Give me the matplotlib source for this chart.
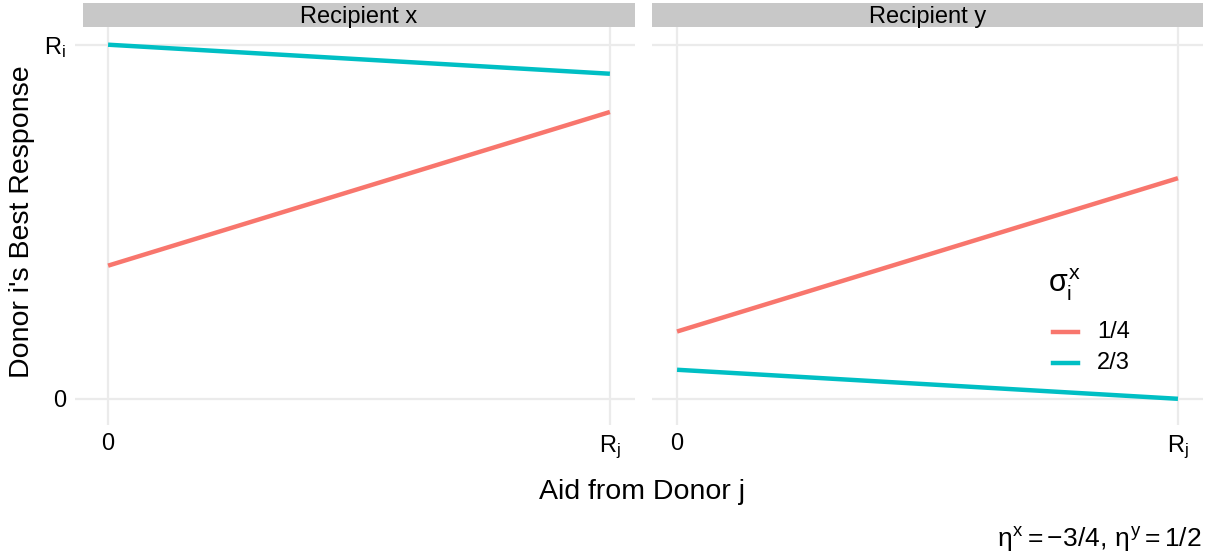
import matplotlib
matplotlib.use("Agg")
import matplotlib.pyplot as plt
from matplotlib.patches import Rectangle
from matplotlib.lines import Line2D

plt.rcParams['font.family'] = ['Liberation Sans', 'DejaVu Sans']
plt.rcParams['mathtext.fontset'] = 'custom'
plt.rcParams['mathtext.rm'] = 'Liberation Sans'
plt.rcParams['mathtext.it'] = 'Liberation Sans'
plt.rcParams['mathtext.bf'] = 'Liberation Sans:bold'

# ---- data ----
facets = ["Recipient x", "Recipient y"]
aid_j = [0.0, 1.0]
sigma_labels = ["1/4", "2/3"]
colors = ["#F8766D", "#00BFC4"]
# best response values at aid_j = 0 and aid_j = Rj, per facet, per sigma
recip_x_quarter = [0.376, 0.810]
recip_x_twothirds = [1.0, 0.918]
recip_y_quarter = [0.190, 0.623]
recip_y_twothirds = [0.082, 0.0]
series = {
    "Recipient x": [recip_x_quarter, recip_x_twothirds],
    "Recipient y": [recip_y_quarter, recip_y_twothirds],
}
x_ticks = [0, 1]
x_ticklabels = ["0", r"$\mathrm{R_j}$"]
y_ticks = [0, 1]
y_ticklabels = ["0", r"$\mathrm{R_i}$"]

W, H = 1212, 559
fig = plt.figure(figsize=(W / 100, H / 100), dpi=100)

grid_col = "#EBEBEB"
lw = 3.2
panels = [(83, 635), (652, 1203)]
top_px, bot_px = 27, 416.5
for i, (name, (l, r)) in enumerate(zip(facets, panels)):
    ax = fig.add_axes([l / W, 1 - bot_px / H, (r - l) / W, (bot_px - top_px) / H])
    ax.set_xlim(-0.05, 1.05)
    ax.set_ylim(-0.05, 1.05)
    for s in ax.spines.values():
        s.set_visible(False)
    ax.set_xticks(x_ticks)
    ax.set_yticks(y_ticks)
    ax.grid(True, color=grid_col, linewidth=1.6)
    ax.set_axisbelow(True)
    ax.set_xticklabels(x_ticklabels, fontsize=17)
    ax.tick_params(axis='x', length=6, width=1.6, color=grid_col, pad=6, labelcolor='black')
    if i == 0:
        ax.set_yticklabels(y_ticklabels, fontsize=17)
        ax.tick_params(axis='y', length=6, width=1.6, color=grid_col, pad=6, labelcolor='black')
    else:
        ax.tick_params(axis='y', length=0, labelleft=False)
    for vals, c in zip(series[name], colors):
        ax.plot(aid_j, vals, color=c, linewidth=lw, solid_capstyle='butt')
    # strip
    strip_h = 24 / (bot_px - top_px)
    ax.add_patch(Rectangle((0, 1.0), 1, strip_h, transform=ax.transAxes,
                           facecolor="#C8C8C8", edgecolor='none', clip_on=False))
    ax.text(0.5, 1 + strip_h / 2 - 0.005, name, transform=ax.transAxes,
            ha='center', va='center', fontsize=17)

fig.text(642 / W, 1 - 492 / H, "Aid from Donor j", ha='center', va='center', fontsize=20.5)
fig.text(22 / W, 1 - 222 / H, "Donor i's Best Response", ha='center', va='center',
         rotation=90, fontsize=20.5)

# legend
fig.text(1048 / W, 1 - 285 / H, r"$\sigma_\mathrm{i}^\mathrm{x}$", ha='left', va='center', fontsize=22)
for k, (lab, c) in enumerate(zip(sigma_labels, colors)):
    y = 1 - (332 + 31 * k) / H
    fig.add_artist(Line2D([1053 / W, 1078 / W], [y, y], color=c, linewidth=lw))
    fig.text(1097 / W, y, lab, ha='left', va='center', fontsize=17)

fig.text(1202 / W, 1 - 539 / H, r"$\eta^\mathrm{x} = -3/4,\, \eta^\mathrm{y} = 1/2$",
         ha='right', va='center', fontsize=19)

fig.savefig("out.png", dpi=100, facecolor='white')
